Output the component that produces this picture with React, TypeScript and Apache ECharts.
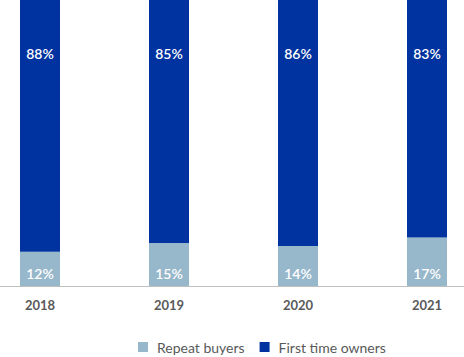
import React, { useEffect, useRef } from "react";
import * as echarts from "echarts";

const categories = ["2018", "2019", "2020", "2021"];
const repeatBuyers = [12, 15, 14, 17];
const firstTimeOwners = [88, 85, 86, 83];

const FONT = "Lato, 'Noto Sans', sans-serif";

export default function App() {
  const ref = useRef<HTMLDivElement>(null);
  useEffect(() => {
    if (!ref.current) return;
    const chart = echarts.init(ref.current, null, { renderer: "svg" });
    chart.setOption({
      animation: false,
      textStyle: { fontFamily: FONT },
      grid: { left: -24.5, top: 0, width: 516, height: 286, containLabel: false, outerBoundsMode: "none" },
      legend: {
        left: 133,
        top: 335,
        itemWidth: 10,
        itemHeight: 10,
        itemGap: 15,
        icon: "rect",
        textStyle: { color: "#595959", fontSize: 14, fontFamily: FONT, padding: [0, 0, 0, 4] },
        data: ["Repeat buyers", "First time owners"],
      },
      xAxis: {
        type: "category",
        data: categories,
        axisLine: { show: true, lineStyle: { color: "#bfbfbf", width: 1 } },
        axisTick: { show: false },
        axisLabel: { color: "#595959", fontSize: 13, fontWeight: "bold", margin: 12, fontFamily: FONT },
      },
      yAxis: { type: "value", min: 0, max: 100, show: false, splitLine: { show: false } },
      series: [
        {
          name: "Repeat buyers",
          type: "bar",
          stack: "total",
          barWidth: 40,
          data: repeatBuyers,
          itemStyle: { color: "#97b7cb" },
          label: {
            show: true,
            position: "insideBottom",
            distance: 6,
            color: "#ffffff",
            fontSize: 14,
            fontWeight: 600,
            fontFamily: FONT,
            formatter: "{c}%",
          },
        },
        {
          name: "First time owners",
          type: "bar",
          stack: "total",
          barWidth: 40,
          data: firstTimeOwners,
          itemStyle: { color: "#0033a0" },
          label: {
            show: true,
            position: "insideTop",
            distance: 46,
            color: "#ffffff",
            fontSize: 14,
            fontWeight: 600,
            fontFamily: FONT,
            formatter: "{c}%",
          },
        },
      ],
    });
    return () => chart.dispose();
  }, []);
  return <div ref={ref} style={{ width: 464, height: 357, position: "absolute", left: 0, top: 0 }} />;
}
